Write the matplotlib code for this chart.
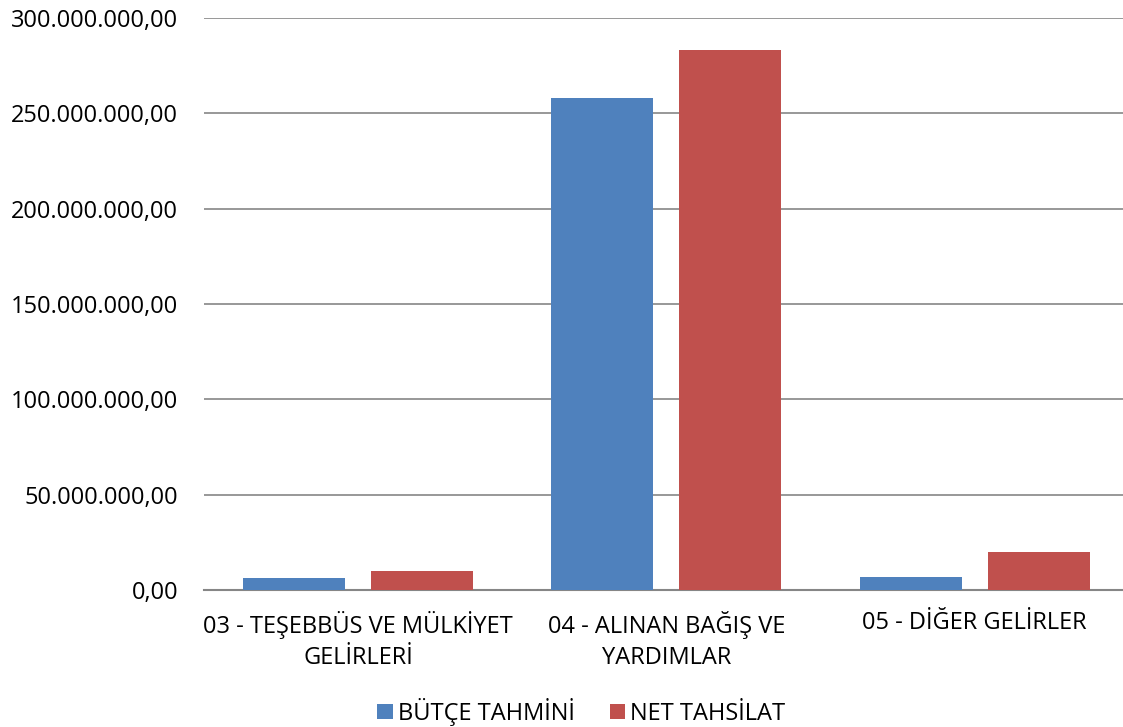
import matplotlib.pyplot as plt
import numpy as np

categories = ['03 - TEŞEBBÜS VE MÜLKİYET\nGELİRLERİ', '04 - ALINAN BAĞIŞ VE\nYARDIMLAR', '05 - DİĞER GELİRLER']
butce = [6.3e6, 257.9e6, 6.7e6]
net = [10.0e6, 283.4e6, 19.9e6]
yticks = [0, 50e6, 100e6, 150e6, 200e6, 250e6, 300e6]
ytick_labels = ['0,00', '50.000.000,00', '100.000.000,00', '150.000.000,00',
                '200.000.000,00', '250.000.000,00', '300.000.000,00']

plt.rcParams['font.family'] = ['Open Sans', 'DejaVu Sans']

fig = plt.figure(figsize=(11.23, 7.27), dpi=100)
ax = fig.add_axes([0.1814, 0.1884, 0.8239, 0.7868])

x = np.arange(len(categories))
w = 0.331
ax.bar(x - 0.2075, butce, w, color='#4F81BD', label='BÜTÇE TAHMİNİ', zorder=3)
ax.bar(x + 0.2075, net, w, color='#C0504D', label='NET TAHSİLAT', zorder=3)

ax.set_xlim(-0.5, 2.5)
ax.set_ylim(0, 300e6)
ax.set_yticks(yticks)
ax.set_yticklabels(ytick_labels)
ax.set_xticks(x)
ax.set_xticklabels(categories, linespacing=1.38)
ax.tick_params(axis='both', length=0, labelsize=17, colors='black')
ax.tick_params(axis='y', pad=18.5)
ax.tick_params(axis='x', pad=15)
ax.grid(axis='y', color='#868686', linewidth=1.2, zorder=0)
for s in ['top', 'right', 'left']:
    ax.spines[s].set_visible(False)
ax.spines['bottom'].set_color('#868686')
ax.spines['bottom'].set_linewidth(1.5)

ax.legend(loc='center', bbox_to_anchor=(0.408, -0.213), ncol=2, frameon=False,
          fontsize=17, handlelength=0.65, handleheight=0.65, handletextpad=0.2,
          columnspacing=1.5)

fig.savefig('out.png', dpi=100)
